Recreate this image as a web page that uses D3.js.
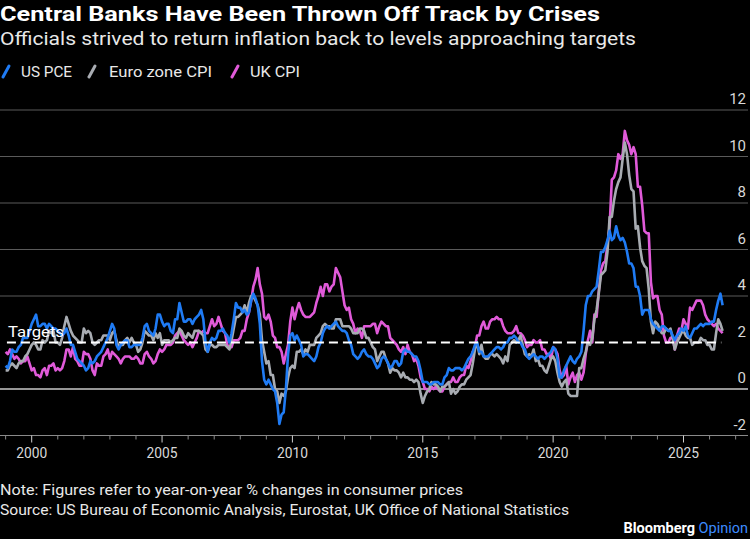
<!DOCTYPE html>
<html><head><meta charset="utf-8">
<script src="https://cdn.jsdelivr.net/npm/d3@7/dist/d3.min.js"></script>
<style>html,body{margin:0;padding:0;background:#000;}svg{display:block;font-family:Roboto,"Open Sans",sans-serif;}</style>
</head><body>
<script>
// Monthly year-on-year % changes, starting January 1999
const startYear = 1999;
const usPce = [
1.0,0.9,1.2,1.7,1.6,1.6,1.8,1.9,2.2,2.2,2.2,2.5,
2.8,3.0,3.2,2.7,2.7,2.8,2.8,2.6,2.8,2.7,2.6,2.6,
2.5,2.4,2.3,2.4,2.6,2.3,1.9,1.9,1.6,1.3,1.2,1.1,
1.0,0.8,0.9,1.2,1.1,1.2,1.4,1.5,1.6,1.8,2.0,2.2,
2.5,2.8,2.6,1.9,1.7,1.9,2.0,2.1,2.1,1.8,1.8,1.9,
1.9,1.9,1.9,2.2,2.7,2.8,2.5,2.4,2.3,2.6,3.2,3.2,
2.9,2.7,2.8,2.8,2.5,2.4,3.0,3.0,3.7,3.3,2.9,2.9,
3.0,3.0,2.8,3.0,3.1,3.2,3.4,3.0,2.0,1.6,2.0,2.2,
2.1,2.2,2.5,2.5,2.6,2.4,2.3,2.0,2.4,3.0,3.7,3.5,
3.5,3.3,3.4,3.2,3.3,3.8,4.1,3.9,3.6,2.8,1.2,0.4,
0.2,0.4,0.2,0.0,-0.1,-0.6,-1.5,-1.1,-1.0,0.0,1.5,2.3,
2.4,2.1,2.3,2.1,1.9,1.4,1.5,1.5,1.4,1.3,1.2,1.4,
1.8,2.0,2.4,2.6,2.7,2.6,2.7,2.8,2.9,2.7,2.6,2.5,
2.5,2.4,2.1,1.9,1.5,1.4,1.3,1.4,1.6,1.7,1.5,1.4,
1.4,1.3,1.1,0.9,1.0,1.3,1.4,1.3,1.1,0.9,1.0,1.2,
1.2,1.0,1.1,1.6,1.7,1.6,1.6,1.5,1.4,1.4,1.2,0.8,
0.3,0.3,0.3,0.2,0.2,0.3,0.3,0.3,0.2,0.2,0.5,0.6,
0.9,0.8,0.8,0.9,0.9,0.9,0.8,0.9,1.1,1.3,1.4,1.6,
1.9,2.0,1.6,1.6,1.4,1.4,1.4,1.5,1.6,1.7,1.8,1.8,
1.7,1.8,2.0,2.0,2.2,2.2,2.3,2.2,2.0,2.0,1.8,1.7,
1.4,1.3,1.4,1.5,1.4,1.3,1.4,1.4,1.3,1.4,1.5,1.6,
1.8,1.7,1.3,0.5,0.5,0.8,1.0,1.2,1.4,1.2,1.1,1.3,
1.4,1.6,2.5,3.6,4.0,4.0,4.2,4.3,4.4,5.1,5.9,5.9,
6.1,6.4,6.8,6.4,6.5,7.0,6.6,6.4,6.5,6.3,5.9,5.4,
5.4,5.2,4.4,4.4,4.0,3.2,3.4,3.4,3.4,3.0,2.8,2.7,
2.6,2.5,2.7,2.7,2.6,2.5,2.5,2.3,2.1,2.3,2.4,2.6,
2.5,2.7,2.3,2.2,2.4,2.6,2.6,2.7,2.8,2.7,2.8,2.8,
2.8,2.9,2.9,3.4,3.8,4.1,3.6
];
const euroCpi = [
0.8,0.8,1.0,1.1,1.0,0.9,1.1,1.2,1.2,1.4,1.5,1.7,
1.9,2.0,1.9,1.7,1.7,2.1,2.0,2.1,2.5,2.4,2.5,2.0,
2.0,1.9,2.2,2.7,3.1,2.8,2.5,2.3,2.2,2.1,2.0,2.0,
2.6,2.4,2.5,2.4,2.0,1.9,2.0,2.1,2.1,2.3,2.3,2.3,
2.1,2.4,2.5,2.1,1.8,1.9,1.9,2.1,2.2,2.0,2.2,2.0,
1.9,1.6,1.7,2.0,2.5,2.4,2.3,2.3,2.1,2.4,2.2,2.4,
1.9,2.1,2.1,2.1,2.0,2.1,2.2,2.2,2.6,2.5,2.3,2.2,
2.4,2.3,2.2,2.5,2.5,2.5,2.4,2.3,1.7,1.6,1.9,1.9,
1.8,1.8,1.9,1.9,1.9,1.9,1.8,1.7,2.1,2.6,3.1,3.1,
3.2,3.3,3.6,3.3,3.7,4.0,4.0,3.8,3.6,3.2,2.1,1.6,
1.1,1.2,0.6,0.6,0.0,-0.1,-0.6,-0.2,-0.3,-0.1,0.5,0.9,
1.0,0.9,1.6,1.6,1.7,1.5,1.7,1.6,1.9,1.9,1.9,2.2,
2.3,2.4,2.7,2.8,2.7,2.7,2.6,2.6,3.0,3.0,3.0,2.7,
2.7,2.7,2.7,2.6,2.4,2.4,2.4,2.6,2.6,2.5,2.2,2.2,
2.0,1.8,1.7,1.2,1.4,1.6,1.6,1.3,1.1,0.7,0.9,0.8,
0.8,0.7,0.5,0.7,0.5,0.5,0.4,0.4,0.3,0.4,0.3,-0.2,
-0.6,-0.3,-0.1,0.0,0.3,0.2,0.2,0.1,-0.1,0.1,0.1,0.2,
0.3,-0.2,0.0,-0.2,-0.1,0.1,0.2,0.2,0.4,0.5,0.6,1.1,
1.7,2.0,1.5,1.9,1.4,1.3,1.3,1.5,1.5,1.4,1.5,1.4,
1.3,1.1,1.4,1.2,1.9,2.0,2.1,2.0,2.1,2.3,1.9,1.5,
1.4,1.5,1.4,1.7,1.2,1.3,1.0,1.0,0.8,0.7,1.0,1.3,
1.4,1.2,0.7,0.3,0.1,0.3,0.4,-0.2,-0.3,-0.3,-0.3,-0.3,
0.9,0.9,1.3,1.6,2.0,1.9,2.2,3.0,3.4,4.1,4.9,5.0,
5.1,5.9,7.4,7.4,8.1,8.6,8.9,9.1,9.9,10.6,10.1,9.2,
8.6,8.5,6.9,7.0,6.1,5.5,5.3,5.2,4.3,2.9,2.4,2.9,
2.8,2.6,2.4,2.4,2.6,2.5,2.6,2.2,1.7,2.0,2.2,2.4,
2.5,2.3,2.2,2.2,1.9,2.0,2.0,2.0,2.2,2.1,2.1,1.9,
1.9,1.7,1.7,2.4,3.0,2.8,2.5
];
const ukCpi = [
1.6,1.5,1.7,1.5,1.3,1.4,1.3,1.1,1.2,1.2,1.4,1.1,
0.8,0.9,0.6,0.6,0.5,0.8,0.9,0.6,1.0,1.0,1.1,0.8,
0.9,0.8,0.9,1.2,1.7,1.7,1.4,1.8,1.3,1.2,1.0,1.0,
1.6,1.5,1.5,1.3,0.8,0.6,1.1,1.0,1.0,1.4,1.5,1.7,
1.3,1.6,1.5,1.4,1.3,1.1,1.3,1.4,1.4,1.4,1.3,1.3,
1.4,1.3,1.1,1.1,1.5,1.6,1.4,1.3,1.1,1.2,1.5,1.7,
1.6,1.7,1.9,1.9,1.9,2.0,2.3,2.4,2.5,2.3,2.1,2.0,
1.9,2.0,1.8,2.0,2.2,2.5,2.4,2.5,2.4,2.4,2.7,3.0,
2.7,2.8,3.1,2.8,2.5,2.4,1.9,1.8,1.8,2.1,2.1,2.1,
2.2,2.5,2.5,3.0,3.3,3.8,4.4,4.7,5.2,4.5,4.1,3.1,
3.0,3.2,2.9,2.3,2.2,1.8,1.8,1.6,1.1,1.5,1.9,2.9,
3.5,3.0,3.4,3.7,3.4,3.2,3.1,3.1,3.1,3.2,3.3,3.7,
4.0,4.4,4.0,4.5,4.5,4.2,4.4,4.5,5.2,5.0,4.8,4.2,
3.6,3.4,3.5,3.0,2.8,2.4,2.6,2.5,2.2,2.7,2.7,2.7,
2.7,2.8,2.8,2.4,2.7,2.9,2.8,2.7,2.7,2.2,2.1,2.0,
1.9,1.7,1.6,1.8,1.5,1.9,1.6,1.5,1.2,1.3,1.0,0.5,
0.3,0.0,0.0,-0.1,0.1,0.0,0.1,0.0,-0.1,-0.1,0.1,0.2,
0.3,0.3,0.5,0.3,0.3,0.5,0.6,0.6,1.0,0.9,1.2,1.6,
1.8,2.3,2.3,2.7,2.9,2.6,2.6,2.9,3.0,3.0,3.1,3.0,
3.0,2.7,2.5,2.4,2.4,2.4,2.5,2.7,2.4,2.4,2.3,2.1,
1.8,1.9,1.9,2.1,2.0,2.0,2.1,1.7,1.7,1.5,1.5,1.3,
1.8,1.7,1.5,0.8,0.5,0.6,1.0,0.2,0.5,0.7,0.3,0.6,
0.7,0.4,0.7,1.5,2.1,2.5,2.0,3.2,3.1,4.2,5.1,5.4,
5.5,6.2,7.0,9.0,9.1,9.4,10.1,9.9,10.1,11.1,10.7,10.5,
10.1,10.4,10.1,8.7,8.7,7.9,6.8,6.7,6.7,4.6,3.9,4.0,
4.0,3.4,3.2,2.3,2.0,2.0,2.2,2.2,1.7,2.3,2.6,2.5,
3.0,2.8,2.6,3.5,3.4,3.6,3.8,3.8,3.8,3.6,3.2,3.0,
2.9,2.8,2.7,2.8,2.6,2.5,2.4
];
const seriesNames = ["US PCE", "Euro zone CPI", "UK CPI"];
const seriesColors = ["#1f7bf4", "#a8acb2", "#e05ad9"];
const targetValue = 2;
const yTicks = [-2, 0, 2, 4, 6, 8, 10, 12];
const xTickYears = [2000, 2005, 2010, 2015, 2020, 2025];
const minorTickYears = d3.range(1999, 2028);

const W = 750, H = 539;
const svg = d3.select("body").append("svg").attr("width", W).attr("height", H);
svg.append("rect").attr("width", W).attr("height", H).attr("fill", "#000");

const x = d3.scaleLinear().domain([2000, 2025]).range([31.7, 683.5]);
const y = d3.scaleLinear().domain([-2, 12]).range([435.5, 110]);

// Title, subtitle
svg.append("text").attr("x", 0).attr("y", 21).attr("fill", "#fff")
  .attr("font-size", 20).attr("font-weight", "bold")
  .attr("textLength", 600).attr("lengthAdjust", "spacingAndGlyphs")
  .text("Central Banks Have Been Thrown Off Track by Crises");
svg.append("text").attr("x", 0).attr("y", 45).attr("fill", "#e8e8e8")
  .attr("font-size", 18)
  .attr("textLength", 636).attr("lengthAdjust", "spacingAndGlyphs")
  .text("Officials strived to return inflation back to levels approaching targets");

// Legend
const legendPos = [{g: 3, t: 21, w: 51}, {g: 89, t: 109, w: 103}, {g: 232, t: 250, w: 50}];
const leg = svg.append("g");
seriesNames.forEach((name, i) => {
  const p = legendPos[i];
  leg.append("line").attr("x1", p.g).attr("y1", 77).attr("x2", p.g + 6).attr("y2", 66)
    .attr("stroke", seriesColors[i]).attr("stroke-width", 3).attr("stroke-linecap", "round");
  leg.append("text").attr("x", p.t).attr("y", 77).attr("fill", "#e8e8e8")
    .attr("font-size", 15).attr("textLength", p.w).attr("lengthAdjust", "spacingAndGlyphs")
    .text(name);
});

// Gridlines and y labels
yTicks.forEach(v => {
  if (v !== -2 && v !== 0 && v !== targetValue) {
    svg.append("line").attr("x1", 0).attr("x2", 748).attr("y1", y(v)).attr("y2", y(v))
      .attr("stroke", "#5a5a5a").attr("stroke-width", 1);
  }
  svg.append("text").attr("x", 746).attr("y", y(v) - 6).attr("text-anchor", "end")
    .attr("fill", "#d8d8d8").attr("font-size", 15).text(v);
});
// zero line
svg.append("line").attr("x1", 0).attr("x2", 748).attr("y1", y(0)).attr("y2", y(0))
  .attr("stroke", "#c8c8c8").attr("stroke-width", 1.3);
// bottom axis line
svg.append("line").attr("x1", 0).attr("x2", 748).attr("y1", y(-2)).attr("y2", y(-2))
  .attr("stroke", "#8a8a8a").attr("stroke-width", 1);

// x ticks
minorTickYears.forEach(yr => {
  const major = xTickYears.includes(yr);
  svg.append("line").attr("x1", x(yr)).attr("x2", x(yr))
    .attr("y1", y(-2)).attr("y2", y(-2) + (major ? 7 : 4))
    .attr("stroke", major ? "#cfcfcf" : "#8a8a8a").attr("stroke-width", 1);
});
xTickYears.forEach(yr => {
  svg.append("text").attr("x", x(yr)).attr("y", 458).attr("text-anchor", "middle")
    .attr("fill", "#d8d8d8").attr("font-size", 14.5).attr("textLength", 31)
    .attr("lengthAdjust", "spacingAndGlyphs").text(yr);
});

// Series lines
const allSeries = [usPce, euroCpi, ukCpi];
const line = d3.line().x((d, i) => x(startYear + i / 12)).y(d => y(d));
[2, 1, 0].forEach(i => {
  svg.append("path").datum(allSeries[i]).attr("d", line)
    .attr("fill", "none").attr("stroke", seriesColors[i])
    .attr("stroke-width", 2.6).attr("stroke-linejoin", "round");
});

// Target line
svg.append("line").attr("x1", x(startYear + 0.05)).attr("x2", x(2026.45))
  .attr("y1", y(targetValue)).attr("y2", y(targetValue))
  .attr("stroke", "#fff").attr("stroke-width", 2).attr("stroke-dasharray", "9,5");
svg.append("text").attr("x", 8).attr("y", y(targetValue) - 6).attr("fill", "#fff")
  .attr("font-size", 15).attr("textLength", 56).attr("lengthAdjust", "spacingAndGlyphs")
  .text("Targets");

// Footer
svg.append("text").attr("x", 0).attr("y", 495).attr("fill", "#e8e8e8").attr("font-size", 14.5)
  .attr("textLength", 463).attr("lengthAdjust", "spacingAndGlyphs")
  .text("Note: Figures refer to year-on-year % changes in consumer prices");
svg.append("text").attr("x", 0).attr("y", 515).attr("fill", "#e8e8e8").attr("font-size", 14.5)
  .attr("textLength", 569).attr("lengthAdjust", "spacingAndGlyphs")
  .text("Source: US Bureau of Economic Analysis, Eurostat, UK Office of National Statistics");
const brand = svg.append("text").attr("x", 748).attr("y", 533).attr("text-anchor", "end")
  .attr("font-size", 14.5).attr("font-weight", "bold");
brand.append("tspan").attr("fill", "#fff").text("Bloomberg ");
brand.append("tspan").attr("fill", "#3d8bff").attr("font-weight", "normal").text("Opinion");
</script>
</body></html>
